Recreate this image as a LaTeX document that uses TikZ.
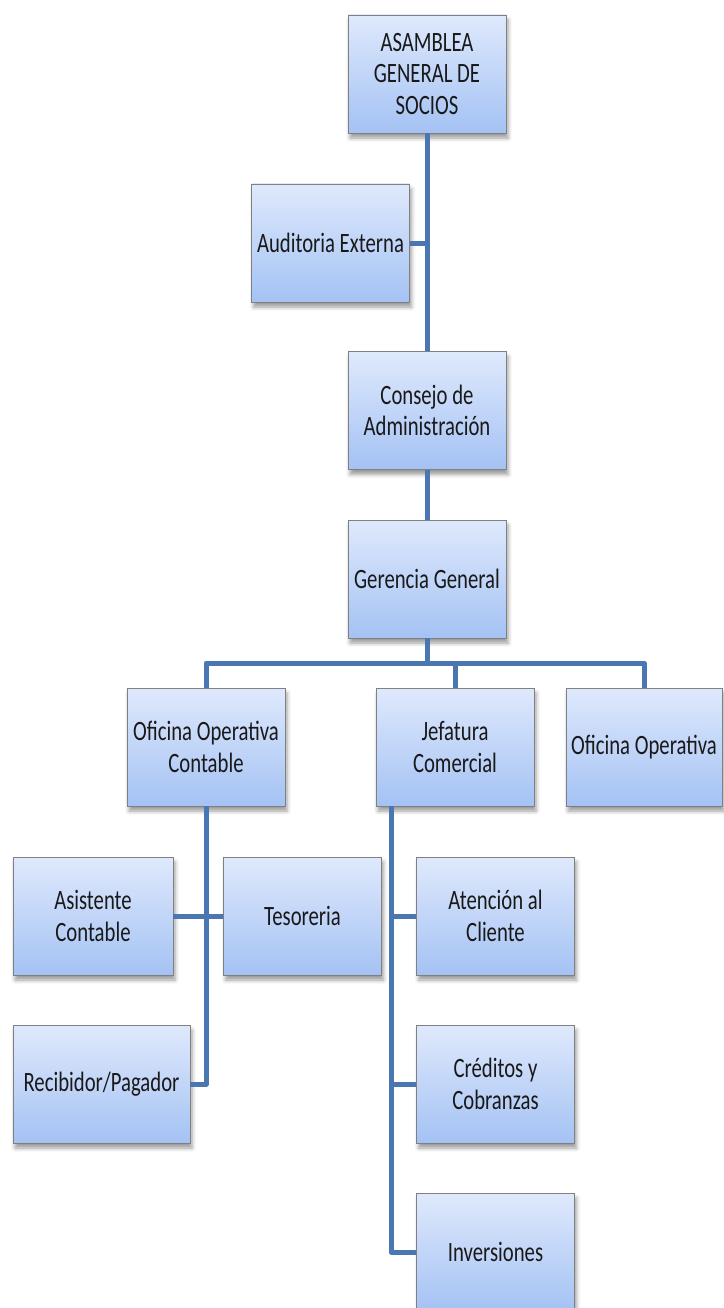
\documentclass[tikz,border=0pt]{standalone}
\usepackage{fontspec}
\setmainfont{Carlito}[FakeStretch=0.74]
\usetikzlibrary{shadows.blur}
\definecolor{linec}{HTML}{4A76B2}
\definecolor{topc}{HTML}{DFE9FC}
\definecolor{botc}{HTML}{A4C2F4}
\definecolor{bord}{HTML}{808080}
\tikzset{
  box/.style={draw=bord, line width=0.8pt, top color=topc, bottom color=botc,
    minimum width=158pt, minimum height=118pt, inner sep=0pt, align=center,
    font=\fontsize{28}{31.5}\selectfont, text=black!90,
    blur shadow={shadow xshift=2pt, shadow yshift=-5pt, shadow blur radius=4pt, shadow opacity=40}},
  conn/.style={draw=linec, line width=5pt, line join=round}
}
\begin{document}
\begin{tikzpicture}[x=1pt,y=-1pt]
\useasboundingbox (0,0) rectangle (723,1308);
\node[box] (asam) at (427,74) {ASAMBLEA\\GENERAL DE\\SOCIOS};
\node[box] (aud) at (330.5,243) {Auditoria Externa};
\node[box] (cons) at (427,410.5) {Consejo de\\Administración};
\node[box] (ger) at (427,579) {Gerencia General};
\node[box] (ooc) at (206,747) {Oficina Operativa\\Contable};
\node[box] (jef) at (455,747) {Jefatura\\Comercial};
\node[box, minimum width=156pt] (ofo) at (644,747) {Oficina Operativa};
\node[box, minimum width=160pt] (asis) at (93,916) {Asistente\\Contable};
\node[box] (tes) at (302.5,916) {Tesoreria};
\node[box, minimum width=177pt] (rec) at (101.5,1084) {Recibidor/Pagador};
\node[box] (aten) at (495.5,916) {Atención al\\Cliente};
\node[box] (cred) at (495.5,1084) {Créditos y\\Cobranzas};
\node[box] (inv) at (495.5,1252) {Inversiones};
\coordinate (bus) at (0,663);
\coordinate (jx) at (391,806);
% connectors
\draw[conn] (asam.south) -- (cons.north);
\draw[conn] (aud.east) -- (aud.east -| asam.south);
\draw[conn] (cons.south) -- (ger.north);
\draw[conn] (ger.south) -- (ger.south |- bus);
\draw[conn] (ooc.north) |- (ofo.north |- bus) -- (ofo.north);
\draw[conn] (jef.north) -- (jef.north |- bus);
\draw[conn] (ooc.south) |- (rec.east);
\draw[conn] (asis.east) -- (tes.west);
\draw[conn] (jx) |- (inv.west);
\draw[conn] (jx |- aten.west) -- (aten.west);
\draw[conn] (jx |- cred.west) -- (cred.west);
\end{tikzpicture}
\end{document}
